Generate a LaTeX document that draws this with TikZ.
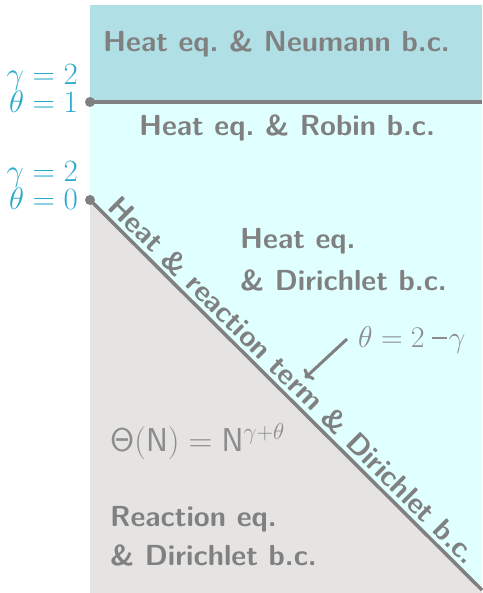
\RequirePackage{fix-cm}
\documentclass[tikz,border=0pt]{standalone}
\usetikzlibrary{arrows.meta}
\definecolor{neum}{RGB}{176,223,229}
\definecolor{robin}{RGB}{224,255,255}
\definecolor{react}{RGB}{229,228,226}
\definecolor{lab}{RGB}{40,170,205}
\definecolor{txt}{RGB}{128,128,128}
\definecolor{txtl}{RGB}{140,140,140}
\tikzset{
  bound/.style={draw=txt, line width=3.5pt},
  dot/.style={fill=txt},
  region/.style={text=txt, font=\fontsize{29}{42}\selectfont\sffamily\bfseries, align=left, inner sep=0pt},
  param/.style={text=lab, font=\fontsize{31}{26}\selectfont, align=right, inner sep=0pt},
  formula/.style={text=txtl, font=\fontsize{30}{34}\selectfont, inner sep=0pt},
  arr/.style={draw=txt, line width=3pt, -{To[length=7pt,width=15pt]}}
}
\begin{document}
\begin{tikzpicture}[x=1pt,y=-1pt]
\useasboundingbox (0,0) rectangle (482,593);
\coordinate (p1) at (90,102);
\coordinate (e1) at (482,102);
\coordinate (p0) at (90,200);
\coordinate (e0) at (482,590);
\fill[robin] (90,102) rectangle (482,593);
\fill[neum] (90,5) rectangle (482,102);
\fill[react] (p0) -- (e0) -- (482,593) -- (90,593) -- cycle;
\draw[bound] (p1) -- (e1);
\draw[bound] (p0) -- (e0);
\fill[dot] (p1) circle (5);
\fill[dot] (p0) circle (5);
\node[param, anchor=base east] (l1) at (78,113) {$\gamma=2$\\$\theta=1$};
\node[param, anchor=base east] (l0) at (78,210) {$\gamma=2$\\$\theta=0$};
\node[region, anchor=base west] (neu) at (103,52) {Heat eq.\ \& Neumann b.c.};
\node[region, anchor=base] (rob) at (287,136) {Heat eq.\ \& Robin b.c.};
\node[region, anchor=base west] (dir) at (240,290) {Heat eq.\\\& Dirichlet b.c.};
\node[region, anchor=base west] (rea) at (110,565) {Reaction eq.\\[-3pt]\& Dirichlet b.c.};
\path (p0) -- (e0) node[region, pos=0.49, sloped, above=5pt] (diag) {Heat \& reaction term \& Dirichlet b.c.};
\node[formula, anchor=base west] (frm) at (358,347) {$\theta=2$\hspace{7pt}\rule[8pt]{15pt}{1.8pt}\hspace{2pt}$\gamma$};
\node[formula, font=\fontsize{33}{38}\selectfont, anchor=base west] (thn) at (110,451) {$\mathsf{\Theta(N)}=\mathsf{N}^{\gamma+\theta}$};
\coordinate (as) at (347,339);
\coordinate (ae) at (305,378);
\draw[arr] (as) -- (ae);
\end{tikzpicture}
\end{document}
